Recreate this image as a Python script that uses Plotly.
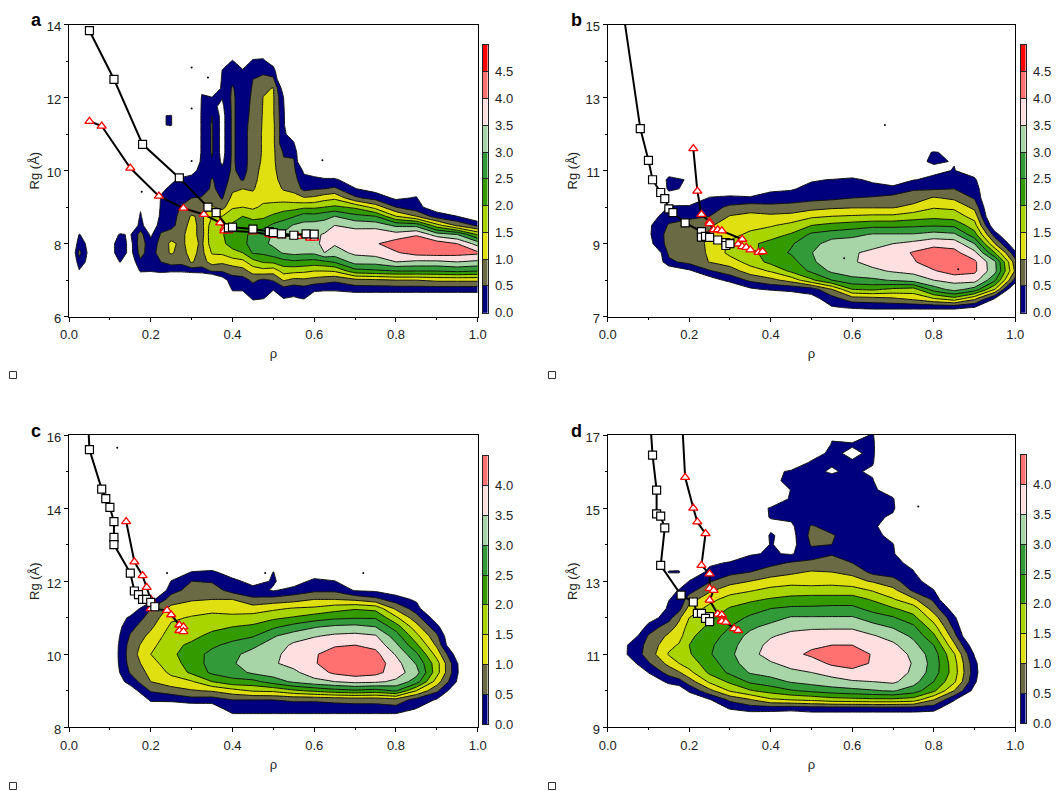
import numpy as np
import plotly.graph_objects as go

W, H = 1061, 791

band_colors = ["#ffffff", "#00007f", "#6a6a45", "#e0e010", "#a8d400", "#339a00",
               "#339a3a", "#a8d5a8", "#ffdfdf", "#ff7070", "#ff0000"]

# ---- panel a: (rho, first Rg of the column, z values upward in 0.25 steps)
a_rho = [0, .025, .05, .075, .1, .125, .15, .175, .2, .225, .25, .275, .3, .325, .35, .375, .4, .425, .45,
         .475, .5, .525, .55, .575, .6, .625, .65, .7, .75, .8, .85, .9, .95, 1.0]
a_start = [7, 7.25, 7.25, 7, 7.5, 7.25, 7.5, 7, 7, 7, 7, 7, 7, 7, 7, 6.75, 6.5, 6.5, 6.25,
           6.25, 6.5, 6.25, 6.25, 6.25, 6.5, 6.5, 6.5, 6.5, 6.5, 6.5, 6.5, 6.5, 6.5, 6.5]
a_z = [
    [],
    [-.05, .3, .65, .3, .03, -1],
    [-.3, -.2, -.2, -.2, -.3],
    [],
    [-.3, -.3, -.3, -.3, -.8],
    [-.5, .02, .35, .35, .05, -.5],
    [-.4, -.2, -.2, -.05, -.6],
    [-1, .1, .4, .7, .8, .7, .2, .1, -.1, -.5],
    [-1, .05, .15, .2, .15, -.1, -.5],
    [-1, .2, .5, .8, .7, .55, .3, .2, .1, .05, -.1, -.5, -.6, -.8, -.8, -.8, -.5, -.05, -.05, -1],
    [-1, .1, .7, 1.05, 1.1, .8, .3, .25, .2, .15, .1, -.1, -.6, -.8, -.8, -.8, -.5, .05, .05, -.8],
    [-1, .1, .65, .85, .9, .9, .8, .7, .55, .3, .2, .1, -.3],
    [-1, .2, 1.05, 1.15, 1.2, 1.2, 1.15, 1.05, .6, .5, .2, .1, -.1, -.5],
    [-1, .25, .8, .85, .9, .8, .85, .9, .8, .55, .2, .1, .1, .1, .1, .1, .1, .1, .1, .08, .05, -.1],
    [-1, .55, 1.2, 1.55, 1.8, 1.9, 1.8, 1.5, 1.05, .75, .6, .55, .3, .45, .55, .55, .55, .55, .5, .1, .02, -.5],
    [-1, -.3, .55, 1.1, 1.6, 1.9, 1.95, 1.8, 1.5, .8, .45, .3, .2, .1, -.1, -.2, -.2, -.2, -.2, -.2, -.1, .02, .1, .1, .02, -.5],
    [-.5, .1, .3, .7, 1.25, 1.85, 2.2, 2.3, 2.1, 1.75, 1.45, 1.15, .9, .7, .6, .6, .6, .6, .6, .6, .6, .6, .6, .55, .4, .2, .05, -.5],
    [-.5, .1, .3, .8, 1.35, 2.0, 2.3, 2.3, 2.2, 2.0, 1.5, 1.2, 1.0, .45, .3, .2, .2, .2, .2, .2, .2, .2, .2, .2, .1, .05, -.5],
    [-.5, .1, .3, .6, 1.2, 1.8, 2.55, 2.8, 2.7, 2.25, 1.85, 1.4, 1.15, .95, .85, .8, .85, .85, .85, .85, .8, .7, .65, .6, .55, .5, .4, .1, -.5],
    [-1, .05, .2, .4, 1.3, 2.05, 2.6, 2.9, 2.8, 2.3, 1.9, 1.6, 1.35, 1.25, 1.2, 1.15, 1.05, 1.03, 1.03, 1.03, 1.03, 1.03, 1.02, 1.01, .9, .6, .4, .1, -.3],
    [-.5, .05, .55, 1.2, 2.1, 2.8, 3.1, 3.05, 2.6, 2.1, 1.65, 1.35, 1.25, 1.2, 1.15, 1.1, 1.1, 1.1, 1.1, 1.1, 1.05, 1.05, 1.05, 1.03, .6, .2, -.3],
    [-1, .0, .3, 1.05, 1.7, 2.3, 3.05, 3.15, 3.1, 2.75, 2.3, 1.75, 1.3, .95, .75, .6, .55, .45, .1, .1, .1, .1, .05, .0, -.3],
    [-.5, -.05, .2, .85, 1.65, 2.4, 3.15, 3.3, 3.25, 3.05, 2.45, 1.8, 1.2, .85, .7, .6, .55, .4, .05, -.3],
    [-.5, .03, .3, .9, 1.6, 2.35, 3.1, 3.3, 3.35, 3.15, 2.75, 1.9, 1.05, .35, .15, -.1],
    [-.3, .1, .8, 1.5, 2.3, 3.1, 3.4, 3.4, 3.2, 2.7, 1.9, 1.1, .45, .1, -.2],
    [-.5, .1, .7, 1.5, 2.4, 3.5, 3.6, 3.55, 3.2, 2.85, 2.0, 1.3, .5, .05, -.3],
    [-.5, .1, .6, 1.55, 2.55, 3.3, 3.55, 3.6, 3.5, 3.0, 2.1, 1.4, .6, .05, -.3],
    [-.5, .25, .85, 2.3, 3.2, 3.6, 3.7, 3.75, 3.35, 2.65, 1.9, .6, .02, -.2],
    [-.5, .25, .9, 2.4, 3.2, 3.7, 3.95, 3.85, 3.3, 2.5, 1.3, .3, -.2],
    [-.5, .25, 1.0, 2.5, 3.5, 3.95, 4.25, 3.7, 2.9, 1.5, .5, -.1],
    [-.5, .25, 1.0, 2.5, 3.4, 4.2, 4.35, 3.95, 2.85, 1.0, .15, .05, -.3],
    [-.5, .25, 1.1, 2.5, 3.4, 4.25, 4.3, 3.25, 1.7, .25, -.3],
    [-.5, .25, 1.1, 2.6, 3.5, 4.2, 4.0, 3.0, .9, .0, -.5],
    [-.5, .25, 1.1, 2.5, 3.4, 4.1, 3.3, 1.95, .4, -.5],
]

# ---- panel b
b_rho = [0, .05, .1, .15, .2, .25, .3, .35, .4, .45, .5, .55, .6, .65, .7, .75, .8, .85, .9, .95, 1.0]
b_start = [7, 7, 9, 8, 8, 8, 7.75, 7.75, 7.5, 7.5, 7.5, 7, 7, 7, 7, 7, 7, 7, 7, 7.25, 7.75]
b_z = [
    [], [],
    [-.2, -.1, -.1, -.3],
    [-1, -.5, .4, .6, .7, .7, .55, .3, .05, -.3, .1, .15, -.3],
    [-1, -.1, .65, .8, .85, .8, .7, .4, .1, -.5, -.1, -.05, -.5],
    [-.3, .45, 1.02, 1.05, 1.05, 1.05, .95, .5, .3, .05, -.5],
    [-.7, .18, .75, 1.25, 1.65, 1.6, 1.35, 1.2, 1.03, .6, .15, -.5],
    [-.1, .6, 1.25, 1.7, 1.85, 1.9, 1.6, 1.35, 1.15, .75, .1, -.6],
    [-1, .1, .85, 1.55, 2.15, 2.25, 2.15, 1.8, 1.45, 1.1, .65, .2, -.1, -.8],
    [-.3, .1, 1.2, 2.1, 2.3, 2.55, 2.45, 2.05, 1.65, 1.15, .7, .25, -.05, -.6],
    [-.2, .25, 1.9, 2.6, 2.9, 2.98, 2.8, 2.6, 2.0, 1.4, .8, .35, .15, -.05, -.8],
    [-1, -.05, .3, 1.0, 2.5, 3.1, 3.35, 3.4, 3.25, 2.75, 2.15, 1.5, .9, .4, .2, .02, -.5],
    [-.5, .05, .8, 2.0, 2.85, 3.25, 3.45, 3.45, 3.3, 2.85, 2.25, 1.55, .95, .5, .25, .1, -.4],
    [-.5, .1, .85, 2.1, 2.9, 3.4, 3.65, 3.6, 3.35, 3.05, 2.35, 1.6, .95, .55, .2, -.1, -.5],
    [-.5, .1, .95, 1.9, 3.05, 3.55, 3.75, 3.75, 3.5, 3.05, 2.35, 1.6, .95, .65, .2, -.4],
    [-.5, .1, 1.15, 1.8, 3.2, 3.65, 3.95, 4.05, 3.65, 3.05, 2.4, 1.75, 1.15, .75, .45, -.02, -.4, -.1, -.2, -.5],
    [-.5, .1, 1.5, 2.75, 3.5, 3.95, 4.3, 4.25, 3.85, 3.2, 2.45, 1.85, 1.45, 1.05, .45, .1, -.1, .05, .03, -.5],
    [-.5, .1, 1.85, 3.2, 3.65, 4.25, 4.4, 4.15, 3.8, 3.1, 2.4, 1.75, 1.4, .9, .5, .2, .02, -.02, -.1, -.5],
    [-.5, -.02, 1.15, 2.8, 3.7, 4.1, 4.1, 3.65, 3.0, 2.2, 1.7, 1.3, .85, .45, .3, .1, -.3],
    [-1, .0, 1.5, 2.6, 3.15, 3.1, 2.0, 1.0, .25, -.5],
    [-.8, .3, .9, .7, .1, -.5],
]

# ---- panel c
c_rho = [0, .1, .15, .2, .25, .3, .35, .4, .45, .5, .55, .6, .65, .7, .75, .8, .85, .9, .95, 1.0]
c_start = [8, 9, 9, 8.5, 8.5, 8.5, 8.5, 8.25, 8.25, 8.25, 8.25, 8.25, 8.25, 8.25, 8.25, 8.25, 8.25, 8.5, 9, 8]
c_z = [
    [],
    [-.8, -.5, -.5, -.5, -.5, -.5, -.5, -.5, -.5, -.8],
    [-.3, .2, .55, .7, .75, .7, .55, .35, .1, -.4],
    [-.5, .1, .55, 1.0, 1.15, 1.3, 1.5, 1.35, 1.15, .9, .7, .5, -.2],
    [-.5, .12, .75, 1.3, 1.6, 1.8, 1.9, 1.85, 1.75, 1.6, 1.4, 1.15, .75, .3, .02, -.5],
    [-.5, .3, .95, 1.45, 2.1, 2.2, 2.25, 2.1, 1.85, 1.7, 1.55, 1.25, .95, .7, .5, .02, -.5],
    [-.4, .25, 1.05, 2.0, 2.6, 2.7, 2.65, 2.4, 2.15, 1.85, 1.6, 1.4, 1.0, .75, .45, .1, -.5],
    [-.3, .3, .5, 1.3, 2.35, 2.75, 2.95, 2.9, 2.65, 2.3, 2.0, 1.65, 1.25, 1.0, .3, .15, -.3],
    [-.3, .3, .5, 1.55, 2.35, 3.1, 3.25, 3.15, 2.9, 2.45, 2.1, 1.7, 1.25, .6, .2, -.2],
    [-.3, .3, .5, 1.6, 2.75, 3.25, 3.45, 3.35, 3.2, 2.95, 2.4, 1.9, 1.4, .7, -.05, .05, .02, -.5],
    [-.3, .3, .55, 1.9, 3.1, 3.4, 3.65, 3.75, 3.6, 3.25, 2.7, 2.05, 1.55, .8, .2, -.3],
    [-.3, .3, .55, 2.1, 3.35, 3.75, 3.95, 3.95, 3.8, 3.45, 2.95, 2.25, 1.6, 1.0, .4, .15, -.4],
    [-.3, .3, .6, 2.3, 3.5, 4.1, 4.3, 4.2, 3.95, 3.6, 3.1, 2.4, 1.8, 1.0, .4, .02, -.5],
    [-.3, .3, .65, 2.4, 3.65, 4.25, 4.4, 4.3, 4.0, 3.65, 3.15, 2.45, 1.95, .9, -.05, -.5],
    [-.3, .3, .65, 2.3, 3.6, 4.15, 4.3, 4.15, 3.85, 3.55, 3.0, 2.45, 1.85, .65, -.1, -.5],
    [-.3, .3, .8, 2.55, 3.4, 3.75, 3.7, 3.45, 3.1, 2.75, 2.25, 1.6, .9, .25, -.3],
    [-.5, -.02, .3, 1.5, 2.75, 3.2, 2.95, 2.6, 2.1, 1.65, 1.2, .7, .25, -.1, -.5],
    [-.5, -.05, .6, 1.25, 1.7, 1.7, 1.3, .9, .6, .15, -.3],
    [-.5, -.05, .05, .03, -.3],
    [],
]

# ---- panel d
d_rho = [0, .05, .1, .15, .175, .2, .25, .3, .35, .4, .45, .5, .55, .6, .65, .7, .75, .8, .85, .9, .95]
d_start = [9, 10.75, 10.25, 10, 10, 9.75, 9.5, 9.25, 9.25, 9.25, 9.25, 9.25, 9.25, 9.25, 9.25, 9.25, 9.25, 9.25, 9.5, 10, 9]
d_z = [
    [],
    [-.3, .05, .03, -.5],
    [-.5, .02, .45, .7, .65, .55, .2, -.3],
    [-.5, .15, .7, 1.15, 1.55, 1.35, 1.1, .75, .3, .15, -.02, -.3, -.5, .05, -.4],
    [-.4, .3, .95, 1.5, 1.65, 1.55, 1.3, 1.15, .9, .3, .15, .05, -.5, .05, -.3],
    [-.5, .1, .75, 1.35, 1.75, 1.95, 2.0, 1.9, 1.7, 1.5, 1.2, .75, .3, .02, -.5],
    [-.5, -.05, .85, 1.6, 2.1, 2.25, 2.45, 2.4, 2.25, 2.1, 1.9, 1.65, 1.35, .9, .45, .15, -.1, -.6],
    [-1, .02, .6, 1.55, 2.1, 2.6, 2.8, 2.9, 2.85, 2.7, 2.5, 2.25, 2.05, 1.7, 1.3, .8, .35, .05, -.4],
    [-.5, .2, .95, 1.95, 2.6, 3.05, 3.25, 3.35, 3.25, 3.15, 2.9, 2.6, 2.25, 1.9, 1.45, 1.0, .5, .25, -.05, -.5, -.5, -.5, -.2, -.2, -.5],
    [-.4, .15, 1.4, 2.2, 2.8, 3.2, 3.45, 3.7, 3.65, 3.45, 3.15, 2.8, 2.5, 2.05, 1.65, 1.2, .75, .35, .05, .03, .05, -.1, .02, .03, -.3, -.5, -.1, -.1, -.5],
    [-.4, .1, 1.5, 2.45, 3.05, 3.4, 3.65, 3.85, 3.8, 3.65, 3.35, 3.05, 2.6, 2.15, 1.75, 1.3, .9, .55, -.05, -.2, -.2, -.1, .1, .1, .05, .02, .1, .05, -.3],
    [-.3, .15, 1.6, 2.6, 3.2, 3.5, 3.75, 4.1, 3.9, 3.75, 3.4, 3.05, 2.6, 2.2, 1.75, 1.25, 1.05, .6, .3, .55, .65, .55, .2, .2, .15, .15, .15, .1, .05, -.2],
    [-.3, .15, 1.75, 2.75, 3.35, 3.65, 4.1, 4.3, 4.0, 3.8, 3.4, 3.05, 2.65, 2.2, 1.75, 1.3, 1.0, .75, .45, .5, .55, .3, .2, .2, .15, .2, .15, -.05, .05, .1, .05, -.1],
    [-.3, .15, 1.8, 2.85, 3.45, 3.85, 4.2, 4.35, 4.0, 3.8, 3.4, 3.05, 2.65, 2.2, 1.75, 1.15, .9, .5, .35, .4, .25, .2, .2, .2, .15, .2, .15, .1, .05, -.1, .05, -.3],
    [-.3, .15, 1.85, 2.95, 3.5, 3.75, 3.95, 3.95, 3.8, 3.55, 3.15, 2.8, 2.3, 1.95, 1.45, .95, .35, .2, .2, .15, .2, .1, .15, .15, .15, .1, .05, -.1, .05, .1, .1, .05],
    [-.3, .15, 1.85, 3.05, 3.6, 3.8, 3.9, 3.85, 3.6, 3.3, 2.95, 2.55, 2.05, 1.55, 1.15, .65, .3, .2, .1, .03, -.2, -.3, -.1, .1, .05, -.3],
    [-.3, .15, 1.75, 2.75, 3.2, 3.4, 3.45, 3.35, 3.15, 2.9, 2.6, 2.15, 1.75, 1.1, .4, .2, .05, -.2],
    [-.5, .15, 1.0, 2.1, 2.5, 2.75, 2.8, 2.75, 2.5, 2.1, 1.7, 1.25, .75, .4, .02, -.3],
    [-.5, .05, 1.0, 1.6, 1.75, 1.7, 1.55, 1.1, .7, .35, .1, -.3],
    [-.2, .1, .2, .15, -.05, -.4],
    [],
]

# ---- line series
a_sq_x = [.05, .11, .18, .27, .34, .36, .39, .4, .45, .49, .5, .52, .55, .58, .6]
a_sq_y = [13.83, 12.5, 10.72, 9.8, 9.0, 8.85, 8.43, 8.45, 8.4, 8.33, 8.3, 8.27, 8.23, 8.27, 8.26]
a_tr_x = [.05, .08, .15, .22, .28, .33, .37, .38, .38, .39, .45, .49, .5, .52, .56, .59, .6]
a_tr_y = [11.35, 11.22, 10.07, 9.3, 8.97, 8.8, 8.57, 8.42, 8.35, 8.35, 8.32, 8.25, 8.23, 8.22, 8.2, 8.15, 8.15]
b_sq_x = [.04, .08, .1, .11, .13, .14, .15, .16, .19, .23, .23, .24, .25, .27, .29, .29, .3]
b_sq_y = [15.2, 12.15, 11.28, 10.75, 10.4, 10.23, 9.95, 9.85, 9.57, 9.33, 9.18, 9.2, 9.17, 9.1, 9.03, 8.95, 9.0]
b_tr_x = [.21, .22, .23, .25, .25, .26, .27, .28, .33, .32, .33, .34, .35, .37, .38]
b_tr_y = [11.6, 10.44, 9.8, 9.6, 9.55, 9.38, 9.38, 9.35, 9.12, 8.99, 8.92, 8.9, 8.83, 8.76, 8.78]
c_sq_x = [.047, .05, .08, .09, .1, .11, .11, .11, .15, .16, .17, .18, .19, .2, .21]
c_sq_y = [16.3, 15.6, 14.52, 14.26, 14.02, 13.63, 13.2, 13.0, 12.22, 11.73, 11.63, 11.5, 11.5, 11.42, 11.3]
c_tr_x = [.14, .16, .18, .19, .2, .2, .24, .25, .27, .28, .27, .28]
c_tr_y = [13.63, 12.53, 12.15, 11.83, 11.5, 11.25, 11.2, 11.08, 10.8, 10.75, 10.65, 10.62]
d_sq_x = [.105, .11, .12, .12, .13, .14, .13, .18, .21, .22, .23, .25, .24, .25]
d_sq_y = [17.3, 16.45, 15.49, 14.84, 14.78, 14.46, 13.43, 12.62, 12.43, 12.12, 12.12, 12.03, 11.98, 11.89]
d_tr_x = [.183, .19, .21, .22, .24, .23, .25, .25, .26, .25, .27, .28, .28, .28, .29, .31, .32]
d_tr_y = [17.3, 15.84, 15.0, 14.62, 14.3, 13.43, 13.2, 12.8, 12.75, 12.48, 12.1, 12.08, 11.95, 11.9, 11.88, 11.7, 11.65]

a_speck_x = [.3, .34, .3, .3, .62, .178]
a_speck_y = [12.82, 12.55, 11.7, 10.26, 10.28, 9.42]
b_speck_x = [.68, .58, .86]
b_speck_y = [12.25, 8.6, 8.3]
c_speck_x = [.118, .24, .48, .72]
c_speck_y = [15.65, 12.22, 12.22, 12.22]
d_speck_x = [.762]
d_speck_y = [15.04]

level_edges = [0, .5, 1, 1.5, 2, 2.5, 3, 3.5, 4, 4.5, 5]


def px(x):
    return x / W


def py(y):
    return 1 - y / H


def grid(rows, starts, cols):
    out = []
    r0 = rows[0]
    for s, c in zip(starts, cols):
        lead = int(round((s - r0) / 0.25))
        v = [-1.0] * lead + list(c)
        v = v + [-1.0] * (len(rows) - len(v))
        out.append(v[:len(rows)])
    return np.array(out, dtype=float).T


panels = [
    dict(letter="a", rho=a_rho, rows=np.arange(6.25, 13.26, .25), start=a_start, z=a_z, end=5.0,
         xpx=(69, 477.7), ypx=(24.5, 316.7), cb=(482.7, 45, 267.7), yr=(6, 14), ytick=[6, 8, 10, 12, 14],
         sq=(a_sq_x, a_sq_y), tr=(a_tr_x, a_tr_y), speck=(a_speck_x, a_speck_y), box=(13, 375), lab=(36, 20)),
    dict(letter="b", rho=b_rho, rows=np.arange(7, 11.76, .25), start=b_start, z=b_z, end=5.0,
         xpx=(607.7, 1015.3), ypx=(24.5, 316.7), cb=(1020.7, 45, 267.7), yr=(7, 15), ytick=[7, 9, 11, 13, 15],
         sq=(b_sq_x, b_sq_y), tr=(b_tr_x, b_tr_y), speck=(b_speck_x, b_speck_y), box=(552, 375), lab=(576, 20)),
    dict(letter="c", rho=c_rho, rows=np.arange(8, 12.76, .25), start=c_start, z=c_z, end=4.5,
         xpx=(69, 477.7), ypx=(435, 727.3), cb=(482.7, 456, 268), yr=(8, 16), ytick=[8, 10, 12, 14, 16],
         sq=(c_sq_x, c_sq_y), tr=(c_tr_x, c_tr_y), speck=(c_speck_x, c_speck_y), box=(13, 786), lab=(36, 431)),
    dict(letter="d", rho=d_rho, rows=np.arange(9, 17.01, .25), start=d_start, z=d_z, end=4.5,
         xpx=(607.7, 1015.3), ypx=(435, 727.3), cb=(1020.7, 455, 268), yr=(9, 17), ytick=[9, 11, 13, 15, 17],
         sq=(d_sq_x, d_sq_y), tr=(d_tr_x, d_tr_y), speck=(d_speck_x, d_speck_y), box=(552, 786), lab=(576, 431)),
]

FONT = "Liberation Sans, Arial, sans-serif"
TXT = "#222222"
fig = go.Figure()
layout = dict(width=W, height=H, margin=dict(l=0, r=0, t=0, b=0, autoexpand=False), paper_bgcolor="white",
              plot_bgcolor="white", showlegend=False, font=dict(family=FONT, size=13, color=TXT),
              shapes=[], annotations=[])

for i, p in enumerate(panels):
    n = "" if i == 0 else str(i + 1)
    xa, ya = "x" + n, "y" + n
    nb = int(round(p["end"] / 0.5))  # bands between 0 and end
    cols = band_colors[:nb + 1] + [band_colors[nb]]
    scale = [[k / (len(cols) - 1), c] for k, c in enumerate(cols)]
    z = grid(p["rows"], p["start"], p["z"])
    fig.add_trace(go.Contour(
        x=p["rho"], y=p["rows"], z=z, xaxis=xa, yaxis=ya, colorscale=scale, autocontour=False, showscale=False,
        contours=dict(start=0, end=p["end"], size=0.5, coloring="fill", showlines=True),
        line=dict(color="#111111", width=1, smoothing=0), hoverinfo="skip",
    ))
    fig.add_trace(go.Scatter(x=p["speck"][0], y=p["speck"][1], xaxis=xa, yaxis=ya, mode="markers",
                             marker=dict(color="black", size=2), hoverinfo="skip"))
    fig.add_trace(go.Scatter(x=p["tr"][0], y=p["tr"][1], xaxis=xa, yaxis=ya, mode="lines+markers",
                             line=dict(color="black", width=2),
                             marker=dict(symbol="triangle-up", size=8, color="white",
                                         line=dict(color="#ff0000", width=1.3)), hoverinfo="skip"))
    fig.add_trace(go.Scatter(x=p["sq"][0], y=p["sq"][1], xaxis=xa, yaxis=ya, mode="lines+markers",
                             line=dict(color="black", width=2),
                             marker=dict(symbol="square", size=8, color="white",
                                         line=dict(color="black", width=1.2)), hoverinfo="skip"))
    x0, x1 = p["xpx"]
    y0, y1 = p["ypx"]
    axcommon = dict(showgrid=False, zeroline=False, showline=True, linecolor="black", linewidth=1.3,
                    mirror=True, ticks="outside", ticklen=4, tickwidth=1, tickcolor="black",
                    tickfont=dict(family=FONT, size=13, color=TXT))
    layout["xaxis" + n] = dict(axcommon, domain=[px(x0), px(x1)], anchor=ya, range=[0, 1],
                               tickvals=[0, .2, .4, .6, .8, 1.0],
                               ticktext=["0.0", "0.2", "0.4", "0.6", "0.8", "1.0"],
                               ticklabelstandoff=2,
                               minor=dict(tickvals=[.1, .3, .5, .7, .9], ticks="outside", ticklen=2, tickcolor="black"),
                               title=dict(text="ρ", standoff=7, font=dict(family=FONT, size=13, color=TXT)))
    minor = [p["yr"][0] + 1 + 2 * k for k in range(4)]
    layout["yaxis" + n] = dict(axcommon, domain=[py(y1), py(y0)], anchor=xa, range=list(p["yr"]),
                               tickvals=p["ytick"], ticktext=[str(t) for t in p["ytick"]],
                               ticklabelshift=2,
                               minor=dict(tickvals=minor, ticks="outside", ticklen=2, tickcolor="black"),
                               title=dict(text="Rg (Å)", standoff=4, font=dict(family=FONT, size=13, color=TXT)))

    # colour key on its own small axes
    cbx, cby, cbl = p["cb"]
    edges = level_edges[:nb + 1]
    key_z = [[k] for k in range(nb)]
    key_scale = [[k / (nb - 1), band_colors[k + 1]] for k in range(nb)]
    kx, ky = f"x{i + 5}", f"y{i + 5}"
    fig.add_trace(go.Heatmap(x=[0, 1], y=edges, z=key_z, xaxis=kx, yaxis=ky, colorscale=key_scale,
                             zmin=0, zmax=nb - 1, showscale=False, hoverinfo="skip"))
    layout[f"xaxis{i + 5}"] = dict(domain=[px(cbx), px(cbx + 5)], anchor=ky, range=[0, 1], showticklabels=False,
                                   ticks="", showgrid=False, zeroline=False, showline=True, mirror=True,
                                   linecolor="#222222", linewidth=0.5)
    layout[f"yaxis{i + 5}"] = dict(domain=[py(cby + cbl), py(cby)], anchor=kx, side="right", range=[0, p["end"]],
                                   tickvals=edges[:-1], ticktext=[f"{v:.1f}" for v in edges[:-1]],
                                   ticks="inside", ticklen=5, tickwidth=0.7, tickcolor="#222222",
                                   ticklabelstandoff=4,
                                   showgrid=False, zeroline=False, showline=True, mirror=True,
                                   linecolor="#222222", linewidth=0.5,
                                   tickfont=dict(family=FONT, size=13, color=TXT))
    bx, by = p["box"]
    layout["shapes"].append(dict(type="rect", xref="paper", yref="paper", x0=px(bx - 3.5), x1=px(bx + 3.5),
                                 y0=py(by + 3.5), y1=py(by - 3.5), line=dict(color="#333333", width=1),
                                 fillcolor="white"))
    lx, ly = p["lab"]
    layout["annotations"].append(dict(text=f"<b>{p['letter']}</b>", xref="paper", yref="paper", x=px(lx), y=py(ly),
                                      xanchor="center", yanchor="middle", showarrow=False,
                                      font=dict(family=FONT, size=18, color="black")))

fig.update_layout(**layout)
fig.write_html("out.html", config={"displayModeBar": False},
               post_script="document.body.style.margin='0';document.body.style.overflow='hidden';")
